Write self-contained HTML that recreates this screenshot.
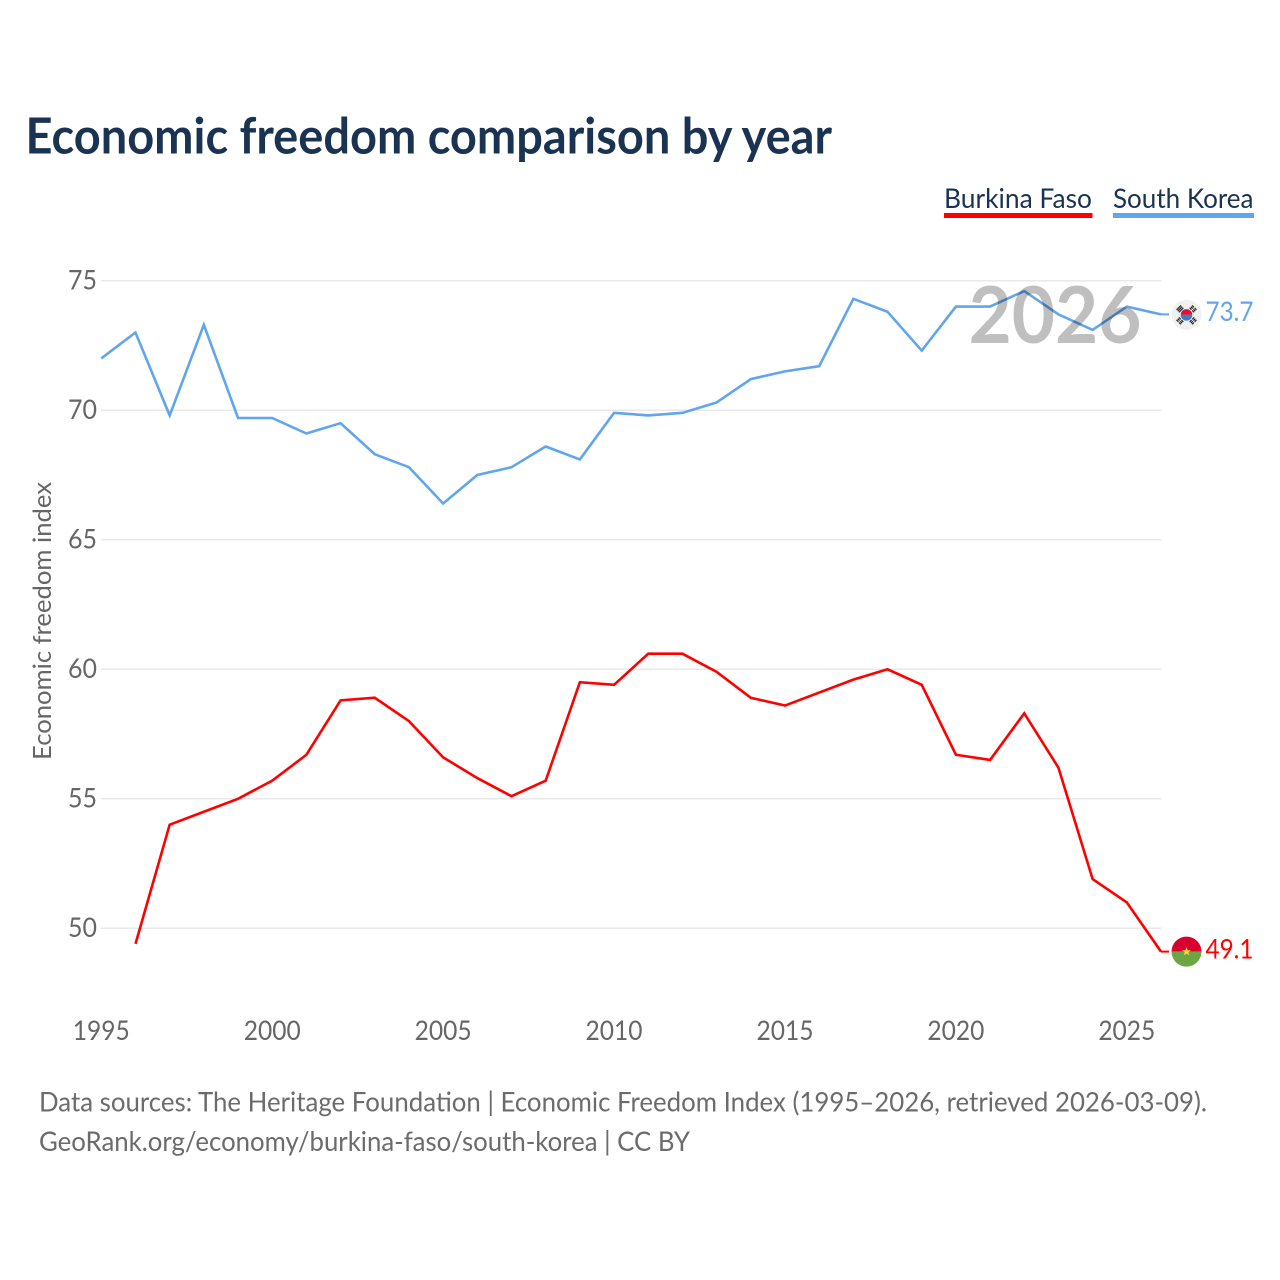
<!DOCTYPE html>
<html lang="en">
<head>
<meta charset="utf-8">
<title>Economic freedom comparison by year</title>
<style>
html,body{margin:0;padding:0;background:#fff;}
svg{display:block;font-family:"Lato","Carlito","Liberation Sans",sans-serif;}
</style>
</head>
<body>
<svg id="chart" width="1280" height="1280" viewBox="0 0 1280 1280" xmlns="http://www.w3.org/2000/svg">
  <rect width="1280" height="1280" fill="#ffffff"/>
  <text x="25.500" y="153.500" font-size="49.500" font-weight="700" fill="#1a3352" textLength="806.500" lengthAdjust="spacingAndGlyphs">Economic freedom comparison by year</text>

  <g>
    <text x="944" y="208" font-size="27.500" fill="#1a3352" textLength="148" lengthAdjust="spacingAndGlyphs">Burkina Faso</text>
    <rect x="944" y="213" width="148.500" height="5" fill="#ff0000"/>
  </g>
  <g>
    <text x="1113" y="208" font-size="27.500" fill="#1a3352" textLength="140.500" lengthAdjust="spacingAndGlyphs">South Korea</text>
    <rect x="1113" y="213" width="141" height="5" fill="#60a5ee"/>
  </g>

  <g id="grid"></g>
  <g id="y-ticks"></g>
  <g id="x-ticks"></g>
  <text transform="translate(51 621) rotate(-90)" text-anchor="middle" font-size="25.500" fill="#666666" textLength="278" lengthAdjust="spacingAndGlyphs">Economic freedom index</text>

  <g id="series"></g>

  <text x="968.500" y="343" font-size="78.500" font-weight="700" fill="#000000" fill-opacity="0.25" textLength="173" lengthAdjust="spacingAndGlyphs">2026</text>

  <g id="flag-kr">
    <circle cx="0" cy="0" r="15" fill="#f0f0f0"/>
    <path d="M-5.800 0A5.800 5.800 0 0 1 5.800 0Z" fill="#d8143a"/>
    <path d="M-5.800 0A5.800 5.800 0 0 0 5.800 0Z" fill="#3d7cc4"/>
    <g stroke="#222222" stroke-width="1.200">
      <path d="M-10-5L-5.500-9.500M-8.800-3.800L-4.300-8.300M-7.600-2.600L-3.100-7.100"/>
      <path d="M10-5L5.500-9.500M8.800-3.800L4.300-8.300M7.600-2.600L3.100-7.100" stroke-dasharray="2.700 0.900"/>
      <path d="M-10 5L-5.500 9.500M-8.800 3.800L-4.300 8.300M-7.600 2.600L-3.100 7.100" stroke-dasharray="2.700 0.900"/>
      <path d="M10 5L5.500 9.500M8.800 3.800L4.300 8.300M7.600 2.600L3.100 7.100" stroke-dasharray="2.700 0.900"/>
    </g>
  </g>
  <g id="flag-bf">
    <path d="M-15 0A15 15 0 0 1 15 0Z" fill="#d8002f"/>
    <path d="M-15 0A15 15 0 0 0 15 0Z" fill="#6da544"/>
    <polygon points="0,-4.500 1.200,-1.400 4.500,-1.400 1.800,0.600 2.800,3.800 0,1.900 -2.800,3.800 -1.800,0.600 -4.500,-1.400 -1.200,-1.400" fill="#ffda44"/>
  </g>
  <g id="end-labels"></g>

  <text x="39" y="1111.500" font-size="27" fill="#6b6b6b" textLength="1168" lengthAdjust="spacingAndGlyphs">Data sources: The Heritage Foundation | Economic Freedom Index (1995–2026, retrieved 2026-03-09).</text>
  <text x="39" y="1151" font-size="27" fill="#6b6b6b" textLength="651" lengthAdjust="spacingAndGlyphs">GeoRank.org/economy/burkina-faso/south-korea | CC BY</text>
</svg>
<script>
const years = [1995,1996,1997,1998,1999,2000,2001,2002,2003,2004,2005,2006,2007,2008,2009,2010,2011,2012,2013,2014,2015,2016,2017,2018,2019,2020,2021,2022,2023,2024,2025,2026];
const burkinaFaso = [null,49.4,54.0,54.5,55.0,55.7,56.7,58.8,58.9,58.0,56.6,55.8,55.1,55.7,59.5,59.4,60.6,60.6,59.9,58.9,58.6,59.1,59.6,60.0,59.4,56.7,56.5,58.3,56.2,51.9,51.0,49.1];
const southKorea = [72.0,73.0,69.8,73.3,69.7,69.7,69.1,69.5,68.3,67.8,66.4,67.5,67.8,68.6,68.1,69.9,69.8,69.9,70.3,71.2,71.5,71.7,74.3,73.8,72.3,74.0,74.0,74.6,73.7,73.1,74.0,73.7];
const yTickValues = [50,55,60,65,70,75];
const xTickValues = [1995,2000,2005,2010,2015,2020,2025];

const NS = 'http://www.w3.org/2000/svg';
const xScale = year => 101.3 + (year - 1995) * (1161 - 101.3) / 31;
const yScale = value => 928.3 - (value - 50) * (928.3 - 280.7) / 25;

function make(tag, attrs, parent) {
  const el = document.createElementNS(NS, tag);
  for (const k in attrs) el.setAttribute(k, attrs[k]);
  parent.appendChild(el);
  return el;
}

const gridGroup = document.getElementById('grid');
const yGroup = document.getElementById('y-ticks');
yTickValues.forEach(v => {
  const line = make('line', {x1: 101, x2: 1161.5, y1: yScale(v), y2: yScale(v), stroke: '#e9e9e9', 'stroke-width': 1.5}, gridGroup);
  
  
  const label = make('text', {x: 97, y: yScale(v) + 8.6, 'text-anchor': 'end', 'font-size': 27.5, fill: '#666666', textLength: 29, lengthAdjust: 'spacingAndGlyphs'}, yGroup);
  
  
  label.textContent = String(v);
});

const xGroup = document.getElementById('x-ticks');
xTickValues.forEach(y => {
  const label = make('text', {x: xScale(y), y: 1040, 'text-anchor': 'middle', 'font-size': 27.5, fill: '#666666', textLength: 57, lengthAdjust: 'spacingAndGlyphs'}, xGroup);
  
  
  label.textContent = String(y);
});

function linePath(values) {
  let d = '';
  values.forEach((v, i) => {
    if (v === null) return;
    d += (d ? 'L' : 'M') + xScale(years[i]).toFixed(2) + ' ' + yScale(v).toFixed(2);
  });
  return d;
}

const seriesGroup = document.getElementById('series');
const redLine = make('path', {d: linePath(burkinaFaso), fill: 'none', stroke: '#ff0000', 'stroke-width': 2.6, 'stroke-linejoin': 'miter'}, seriesGroup);


const blueLine = make('path', {d: linePath(southKorea), fill: 'none', stroke: '#60a5ee', 'stroke-width': 2.6, 'stroke-linejoin': 'miter'}, seriesGroup);



const lastRed = burkinaFaso[burkinaFaso.length - 1];
const lastBlue = southKorea[southKorea.length - 1];
const redLeader = make('line', {x1: xScale(2026), x2: 1169, y1: yScale(lastRed), y2: yScale(lastRed), stroke: '#ff0000', 'stroke-width': 2}, seriesGroup);


const blueLeader = make('line', {x1: xScale(2026), x2: 1169, y1: yScale(lastBlue), y2: yScale(lastBlue), stroke: '#60a5ee', 'stroke-width': 2}, seriesGroup);



document.getElementById('flag-kr').setAttribute('transform', 'translate(1186.5 ' + (yScale(lastBlue) + 0.5) + ')');
document.getElementById('flag-bf').setAttribute('transform', 'translate(1186.5 ' + yScale(lastRed) + ')');

const labelsGroup = document.getElementById('end-labels');
const redLabel = make('text', {x: 1205.5, y: yScale(lastRed) + 7, 'font-size': 27.5, fill: '#ff0000', textLength: 48, lengthAdjust: 'spacingAndGlyphs'}, labelsGroup);


redLabel.textContent = lastRed.toFixed(1);
const blueLabel = make('text', {x: 1205.5, y: yScale(lastBlue) + 6.5, 'font-size': 27.5, fill: '#60a5ee', textLength: 48, lengthAdjust: 'spacingAndGlyphs'}, labelsGroup);


blueLabel.textContent = lastBlue.toFixed(1);
</script>
</body>
</html>
